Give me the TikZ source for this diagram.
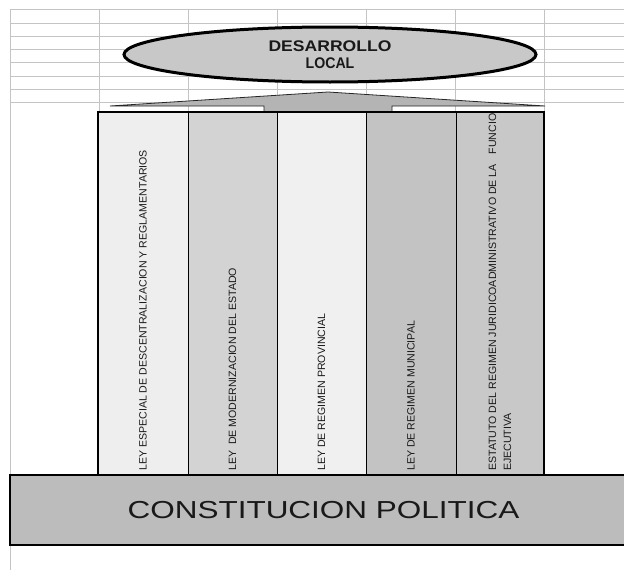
\documentclass[tikz,border=0pt]{standalone}
\usepackage{graphicx}
\usepackage{fontspec}
\setmainfont{Liberation Sans}
\usetikzlibrary{shapes.geometric}
\definecolor{gridc}{RGB}{196,196,196}
\definecolor{ellc}{RGB}{200,200,200}
\definecolor{arrc}{RGB}{180,180,180}
\definecolor{colA}{RGB}{238,238,238}
\definecolor{colB}{RGB}{211,211,211}
\definecolor{colC}{RGB}{240,240,240}
\definecolor{colD}{RGB}{195,195,195}
\definecolor{colE}{RGB}{200,200,200}
\definecolor{cpc}{RGB}{188,188,188}
\definecolor{txt}{RGB}{25,25,25}
\tikzset{
  gridline/.style={draw=gridc, line width=0.9pt},
  colbox/.style={draw=black, line width=1pt, inner sep=0pt, outer sep=0pt, minimum height=363pt, anchor=north west},
  vtext/.style={rotate=90, anchor=west, inner sep=0pt, text=txt, align=left, font=\fontsize{10.6pt}{15pt}\selectfont},
}
\begin{document}
\begin{tikzpicture}[x=1pt,y=-1pt]
\useasboundingbox[fill=white] (0,0) rectangle (624,570);
% spreadsheet grid
\foreach \k in {0,...,7} \draw[gridline] (10,{9.7+13.3*\k}) -- (624,{9.7+13.3*\k});
\foreach \x in {99,188,277,366,455,544} \draw[gridline] (\x,9.7) -- (\x,112);
\draw[gridline] (10,9.7) -- (10,570);
% top ellipse
\node[ellipse, draw=black, line width=3pt, fill=ellc, minimum width=412pt, minimum height=55pt, inner sep=0pt, align=center, text=txt, font=\fontsize{15.4pt}{16.7pt}\selectfont\bfseries] (dl) at (330,54.5) {\scalebox{1.14}[1]{DESARROLLO}\\\scalebox{0.92}[1]{LOCAL}};
% roof arrow
\draw[draw=black!85, fill=arrc, line width=0.8pt, line join=miter] (110,106) -- (328,92) -- (545,106) -- (392,106) -- (392,112) -- (264,112) -- (264,106) -- cycle;
% columns
\node[colbox, fill=colA, minimum width=90pt] (c1) at (98,112) {};
\node[colbox, fill=colB, minimum width=89pt] (c2) at (188,112) {};
\node[colbox, fill=colC, minimum width=89pt] (c3) at (277,112) {};
\node[colbox, fill=colD, minimum width=90pt] (c4) at (366,112) {};
\node[colbox, fill=colE, minimum width=88pt] (c5) at (456,112) {};
\node[vtext] (t1) at ([yshift=4pt]c1.south) {LEY ESPECIAL DE DESCENTRALIZACION Y REGLAMENTARIOS};
\node[vtext] (t2) at ([yshift=4pt]c2.south) {LEY\ \ DE MODERNIZACION DEL ESTADO};
\node[vtext] (t3) at ([yshift=4pt]c3.south) {LEY DE REGIMEN PROVINCIAL};
\node[vtext] (t4) at ([yshift=4pt]c4.south) {LEY DE REGIMEN MUNICIPAL};
\begin{scope}
\clip (c5.north west) rectangle (c5.south east);
\node[vtext] (t5) at ([yshift=4pt]c5.south) {ESTATUTO DEL REGIMEN JURIDICOADMINISTRATIVO DE LA\hspace{10pt}FUNCION\\EJECUTIVA};
\end{scope}
\draw[line width=1.8pt] (c1.north west) rectangle (c5.south east);
% base
\node[draw=black, line width=1.8pt, fill=cpc, minimum width=627pt, minimum height=70pt, anchor=north west, inner sep=0pt, outer sep=0pt, text=txt, font=\fontsize{24.6pt}{28pt}\selectfont] (cp) at (10,475) {\scalebox{1.28}[1]{CONSTITUCION POLITICA}};
\end{tikzpicture}
\end{document}
